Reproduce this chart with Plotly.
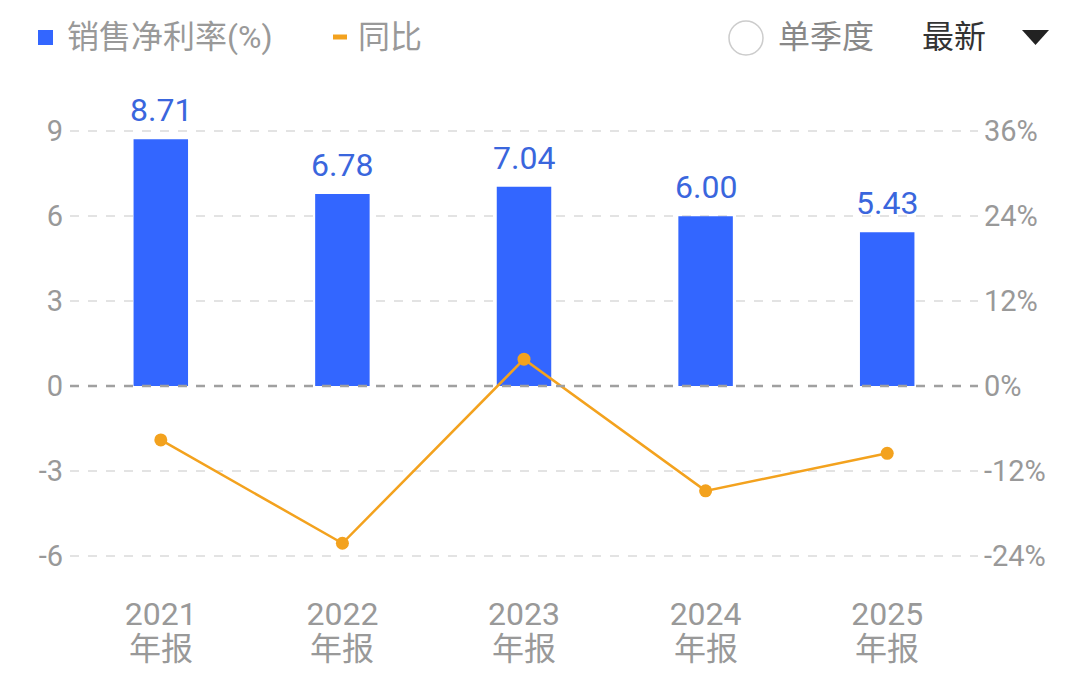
import plotly.graph_objects as go

years = ["2021", "2022", "2023", "2024", "2025"]
period_label = "年报"
net_margin = [8.71, 6.78, 7.04, 6.00, 5.43]
yoy_pct = [-7.6, -22.2, 3.8, -14.8, -9.5]
left_ticks = [-6, -3, 0, 3, 6, 9]
right_ticks = [-24, -12, 0, 12, 24, 36]

W, H = 1080, 683
L, R, T, B = 70, 102, 100, 93
PW, PH = W - L - R, H - T - B

def px(x):
    return (x - L) / PW

def py(y):
    return (H - B - y) / PH

FONT = "Roboto, Noto Sans CJK SC, sans-serif"
BLUE = "#3366ff"
ORANGE = "#f3a21e"
GRAY = "#999999"

fig = go.Figure()
fig.add_trace(go.Bar(
    x=years, y=net_margin, width=0.3, marker=dict(color=BLUE, line=dict(width=0)),
    name="销售净利率(%)", yaxis="y"))
fig.add_trace(go.Scatter(
    x=years, y=yoy_pct, mode="lines+markers",
    line=dict(color=ORANGE, width=2.5), marker=dict(color=ORANGE, size=13),
    name="同比", yaxis="y2", cliponaxis=False))

# value labels above bars (category index positions)
for i, yv in enumerate(net_margin):
    fig.add_annotation(x=i, y=yv, xref="x", yref="y", text=f"{yv:.2f}", showarrow=False,
                       yanchor="bottom", yshift=8, font=dict(size=32, color="#3a66dd", family=FONT))
# second line of category labels
for i, _ in enumerate(years):
    fig.add_annotation(x=i, y=py(649), xref="x", yref="paper", text=period_label, showarrow=False,
                       yanchor="middle", font=dict(size=32, color=GRAY, family=FONT))

fig.update_layout(
    width=W, height=H, margin=dict(l=L, r=R, t=T, b=B),
    paper_bgcolor="white", plot_bgcolor="white", showlegend=False,
    hovermode=False, font=dict(family=FONT),
    xaxis=dict(type="category", range=[-0.5, len(years) - 0.5], showgrid=False, showline=False, ticks="",
               tickfont=dict(size=32, color=GRAY, family=FONT), ticklabelstandoff=2),
    yaxis=dict(range=[-7.2, 10.1], tickvals=left_ticks, ticktext=[str(v) for v in left_ticks],
               showgrid=True, gridcolor="#e3e3e3",
               griddash="dash", gridwidth=1.5, zeroline=False, showline=False, ticks="",
               tickfont=dict(size=29, color=GRAY, family=FONT), ticklabelstandoff=6),
    yaxis2=dict(range=[-28.8, 40.4], tickvals=right_ticks, ticktext=[f"{v}%" for v in right_ticks],
                overlaying="y", side="right", showgrid=False, zeroline=False, showline=False, ticks="",
                tickfont=dict(size=29, color=GRAY, family=FONT), ticklabelstandoff=5),
)

# zero line above the bars
fig.add_shape(type="line", xref="paper", yref="y", x0=0, x1=1, y0=0, y1=0,
              line=dict(color="#a0a0a0", width=2.5, dash="dash"), layer="above")

# header legend / controls
fig.add_shape(type="rect", xref="paper", yref="paper", x0=px(38), x1=px(53), y0=py(30), y1=py(45),
              fillcolor=BLUE, line=dict(width=0))
fig.add_annotation(xref="paper", yref="paper", x=px(65), y=py(37), text="销售净利率(%)",
                   showarrow=False, xanchor="left", yanchor="middle",
                   font=dict(size=32, color=GRAY, family=FONT))
fig.add_shape(type="line", xref="paper", yref="paper", x0=px(333), x1=px(347), y0=py(37), y1=py(37),
              line=dict(color=ORANGE, width=5))
fig.add_annotation(xref="paper", yref="paper", x=px(356), y=py(37), text="同比",
                   showarrow=False, xanchor="left", yanchor="middle",
                   font=dict(size=32, color=GRAY, family=FONT))
fig.add_shape(type="circle", xref="paper", yref="paper", x0=px(729), x1=px(763), y0=py(21), y1=py(55),
              line=dict(color="#cccccc", width=1.5))
fig.add_annotation(xref="paper", yref="paper", x=px(776), y=py(37), text="单季度",
                   showarrow=False, xanchor="left", yanchor="middle",
                   font=dict(size=32, color="#888888", family=FONT))
fig.add_annotation(xref="paper", yref="paper", x=px(920), y=py(37), text="最新",
                   showarrow=False, xanchor="left", yanchor="middle",
                   font=dict(size=32, color="#333333", family=FONT))
fig.add_shape(type="path", xref="paper", yref="paper",
              path=f"M {px(1022)} {py(30)} L {px(1049)} {py(30)} L {px(1035.5)} {py(45)} Z",
              fillcolor="#222222", line=dict(width=0))

fig.write_html("out.html", post_script="document.body.style.margin='0';",
               config={"displayModeBar": False})
